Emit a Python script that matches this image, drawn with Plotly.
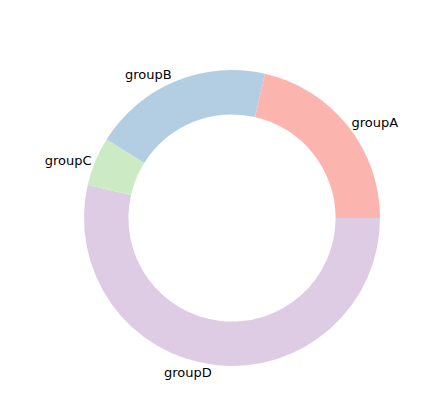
import plotly.graph_objects as go

names = ["groupA", "groupB", "groupC", "groupD"]
sizes = [12, 11, 3, 30]
colors = ["#fbb4ae", "#b3cde3", "#ccebc5", "#decbe4"]

# matplotlib draws counterclockwise from 3 o'clock; same layout = reversed order, clockwise
fig = go.Figure(go.Pie(
    labels=names[::-1],
    values=sizes[::-1],
    hole=0.7,
    sort=False,
    direction="clockwise",
    rotation=90,
    marker=dict(colors=colors[::-1], line=dict(color="white", width=0)),
    textinfo="label",
    textposition="outside",
    outsidetextfont=dict(family="DejaVu Sans", size=13, color="black"),
    showlegend=False,
))

fig.update_layout(
    width=440, height=413,
    margin=dict(l=76, r=68, t=62, b=55),
    paper_bgcolor="white",
    plot_bgcolor="white",
)

fig.write_html("out.html")
